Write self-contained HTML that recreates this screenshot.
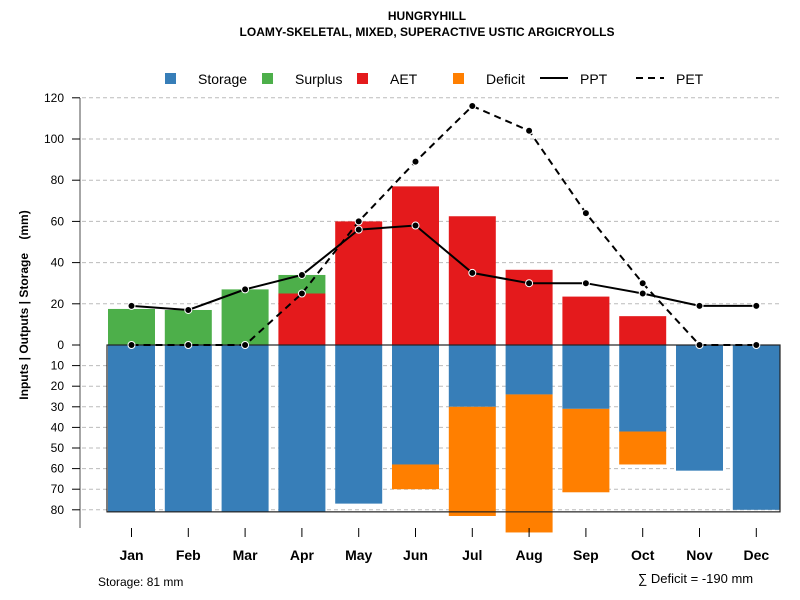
<!DOCTYPE html>
<html><head><meta charset="utf-8"><style>
body{margin:0;background:#fff}
svg{display:block;font-family:"Liberation Sans",sans-serif}
</style></head><body>
<svg id="c" width="800" height="600" xmlns="http://www.w3.org/2000/svg">
<text x="427" y="20" text-anchor="middle" font-weight="bold" font-size="12">HUNGRYHILL</text>
<text x="427" y="36" text-anchor="middle" font-weight="bold" font-size="12">LOAMY-SKELETAL, MIXED, SUPERACTIVE USTIC ARGICRYOLLS</text>
<g id="legend"></g>
<g id="grid"></g><g id="bars"></g><g id="lines"></g><g id="axes"></g>
<text transform="translate(28,305) rotate(-90)" text-anchor="middle" font-weight="bold" font-size="12" style="white-space:pre">Inputs | Outputs | Storage    (mm)</text>
<text x="98" y="586" font-size="12">Storage: 81 mm</text>
<text x="638" y="583" font-size="13">∑ Deficit = -190 mm</text>
</svg>
<script>
const months=["Jan","Feb","Mar","Apr","May","Jun","Jul","Aug","Sep","Oct","Nov","Dec"];
const aet=[0,0,0,25,60,77,62.5,36.5,23.5,14,0,0];
const surplus=[17.5,17,27,9,0,0,0,0,0,0,0,0];
const storage=[81,81,81,81,77,58,30,24,31,42,61,80];
const deficit=[0,0,0,0,0,12,53,67,40.5,16,0,0];
const ppt=[19,17,27,34,56,58,35,30,30,25,19,19];
const pet=[0,0,0,25,60,89,116,104,64,30,0,0];
const posTicks=[0,20,40,60,80,100,120];
const negTicks=[10,20,30,40,50,60,70,80];
const NS="http://www.w3.org/2000/svg";
const y0=345,k=2.06;
const Y=v=>y0-v*k;
const X=i=>131.5+i*56.8;
const bw=47;
function mk(p,t,a){const e=document.createElementNS(NS,t);for(const q in a)e.setAttribute(q,a[q]);document.getElementById(p).appendChild(e);return e;}
posTicks.forEach(v=>{if(v>0){const l=mk('grid','line',{x1:82,x2:780,y1:Y(v),y2:Y(v),stroke:'#bbb','stroke-dasharray':'4,3'});

}});
negTicks.forEach(v=>{const l=mk('grid','line',{x1:82,x2:780,y1:Y(-v),y2:Y(-v),stroke:'#bbb','stroke-dasharray':'4,3'});

});
months.forEach((m,i)=>{
 const x=X(i)-bw/2;
 let r;
 r=mk('bars','rect',{x:x,y:Y(aet[i]),width:bw,height:aet[i]*k,fill:'#E41A1C'});
 
 
 r=mk('bars','rect',{x:x,y:Y(aet[i]+surplus[i]),width:bw,height:surplus[i]*k,fill:'#4DAF4A'});
 
 
 r=mk('bars','rect',{x:x,y:y0,width:bw,height:storage[i]*k,fill:'#377EB8'});
 
 
 r=mk('bars','rect',{x:x,y:Y(-storage[i]),width:bw,height:deficit[i]*k,fill:'#FF7F00'});
 
 
});
const box=mk('bars','rect',{x:107,y:y0,width:673,height:81*k,fill:'none',stroke:'#222','stroke-width':1.2});


function series(arr,dash,name){
 const pl=mk('lines','polyline',{points:arr.map((v,i)=>X(i)+','+Y(v)).join(' '),fill:'none',stroke:'#000','stroke-width':2,'stroke-dasharray':dash});
 
 
 arr.forEach((v,i)=>{const c=mk('lines','circle',{cx:X(i),cy:Y(v),r:3.5,fill:'#000',stroke:'#fff','stroke-width':1});
 
 });
}
series(pet,'7,5','pet');series(ppt,'none','ppt');
const ax=mk('axes','line',{x1:80,x2:80,y1:98,y2:528,stroke:'#888','stroke-width':1.5});


posTicks.concat(negTicks.map(v=>-v)).forEach(v=>{
 mk('axes','line',{x1:72,x2:80,y1:Y(v),y2:Y(v),stroke:'#000'});
 const t=mk('axes','text',{x:64,y:Y(v)+4,'text-anchor':'end','font-size':12});
 t.textContent=Math.abs(v);
 
 
});
months.forEach((m,i)=>{
 mk('axes','line',{x1:X(i),x2:X(i),y1:528,y2:537,stroke:'#000'});
 const t=mk('axes','text',{x:X(i),y:560,'text-anchor':'middle','font-size':14,'font-weight':'bold'});
 t.textContent=m;
 
 
});
const leg=[["Storage","#377EB8","sq",165],["Surplus","#4DAF4A","sq",262],["AET","#E41A1C","sq",357],["Deficit","#FF7F00","sq",453],["PPT","#000","solid",540],["PET","#000","dash",636]];
leg.forEach(d=>{
 if(d[2]=='sq'){const r=mk('legend','rect',{x:d[3],y:73,width:11,height:11,fill:d[1]});
  
  }
 else{const l=mk('legend','line',{x1:d[3],x2:d[3]+28,y1:78,y2:78,stroke:'#000','stroke-width':2,'stroke-dasharray':d[2]=='dash'?'7,5':'none'});
  
  }
 const t=mk('legend','text',{x:d[3]+(d[2]=='sq'?33:40),y:84,'font-size':14});
 t.textContent=d[0];
 
 
});
</script>
</body></html>
